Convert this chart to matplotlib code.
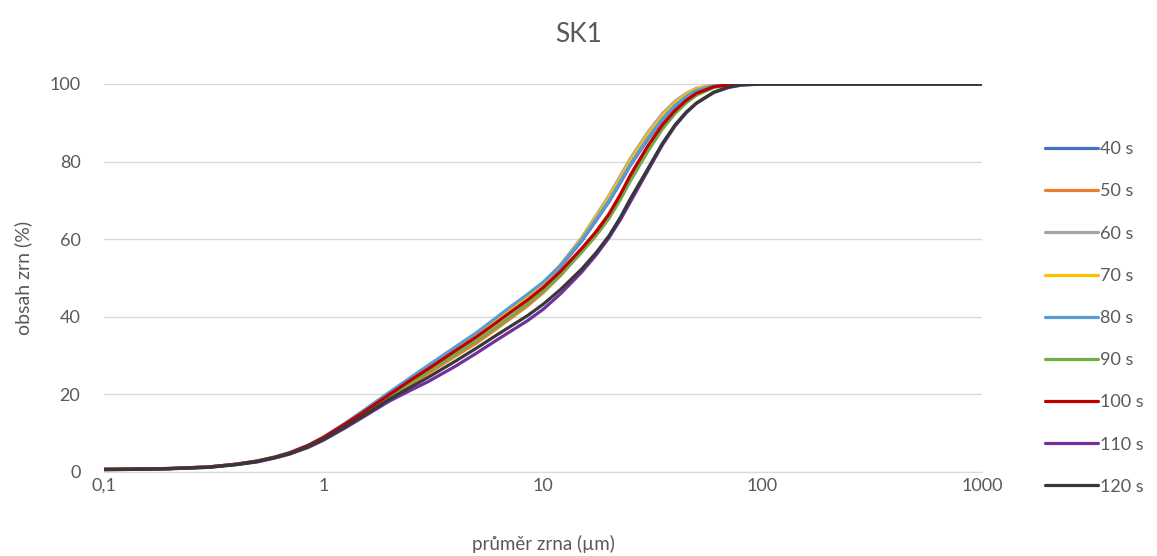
import matplotlib
matplotlib.use("Agg")
import matplotlib.pyplot as plt

plt.rcParams['font.family'] = ['Lato', 'DejaVu Sans']

# grain diameter (µm) and cumulative content (%) for each grinding time
d = [0.1, 0.15, 0.2, 0.3, 0.4, 0.5, 0.6, 0.7, 0.85, 1, 1.25, 1.5, 2, 2.5, 3, 4, 5,
     6, 7, 8.5, 10, 12, 15, 17.5, 20, 22.5, 25, 30, 35, 40, 45, 50, 60, 70, 80,
     100, 1000]

s40 = [0.7, 0.8, 0.9, 1.3, 2.0, 2.8, 3.8, 4.9, 6.8, 8.9, 12.4, 15.4, 20.4, 24.2,
       27.3, 32.0, 35.7, 39.1, 42.0, 45.5, 48.6, 52.9, 59.5, 64.9, 69.7, 74.5,
       79.0, 85.7, 90.8, 94.3, 96.7, 98.2, 99.6, 99.9, 100, 100, 100]
s50 = [0.7, 0.8, 0.9, 1.3, 2.0, 2.8, 3.8, 4.8, 6.7, 8.7, 12.0, 14.8, 19.3, 22.7,
       25.4, 29.9, 33.3, 36.5, 39.3, 42.8, 46.2, 50.6, 57.0, 62.0, 66.5, 71.3,
       76.0, 83.4, 89.0, 92.8, 95.6, 97.5, 99.3, 99.8, 100, 100, 100]
s60 = [0.7, 0.8, 0.9, 1.3, 2.0, 2.8, 3.8, 4.9, 6.8, 8.9, 12.3, 15.2, 20.0, 23.8,
       26.8, 31.5, 35.1, 38.4, 41.3, 45.0, 48.5, 53.3, 60.4, 66.2, 71.3, 76.3,
       80.8, 87.5, 92.4, 95.6, 97.6, 98.9, 99.8, 100, 100, 100, 100]
s70 = [0.7, 0.8, 0.9, 1.3, 2.0, 2.8, 3.8, 4.9, 6.8, 8.9, 12.3, 15.3, 20.2, 24.0,
       27.0, 31.7, 35.4, 38.8, 41.7, 45.3, 48.7, 53.3, 60.2, 65.8, 70.8, 75.7,
       80.2, 86.9, 91.8, 95.1, 97.3, 98.7, 99.8, 100, 100, 100, 100]
s80 = [0.7, 0.8, 0.9, 1.3, 2.0, 2.9, 3.9, 5.0, 6.9, 9.0, 12.5, 15.6, 20.6, 24.4,
       27.5, 32.3, 36.0, 39.4, 42.3, 45.8, 48.9, 53.2, 59.8, 65.2, 70.0, 74.8,
       79.3, 86.0, 91.0, 94.5, 96.8, 98.3, 99.6, 99.95, 100, 100, 100]
s90 = [0.7, 0.8, 0.9, 1.3, 2.0, 2.8, 3.8, 4.8, 6.7, 8.7, 12.0, 14.9, 19.6, 23.1,
       25.9, 30.4, 33.9, 37.0, 39.8, 43.3, 46.5, 50.7, 56.6, 61.0, 65.4, 70.2,
       75.0, 82.6, 88.4, 92.4, 95.2, 97.1, 99.1, 99.7, 100, 100, 100]
s100 = [0.7, 0.8, 0.9, 1.3, 2.0, 2.8, 3.8, 4.9, 6.8, 8.9, 12.3, 15.2, 20.0, 23.7,
        26.6, 31.3, 34.9, 38.1, 40.9, 44.3, 47.5, 51.7, 57.6, 62.0, 66.5, 71.5,
        76.5, 84.0, 89.5, 93.2, 95.8, 97.6, 99.3, 99.8, 100, 100, 100]
s110 = [0.6, 0.7, 0.85, 1.2, 1.9, 2.6, 3.6, 4.6, 6.3, 8.2, 11.3, 14.0, 18.3, 21.1,
        23.3, 27.3, 30.7, 33.6, 36.0, 39.0, 41.9, 45.9, 51.5, 56.0, 60.4, 65.0,
        69.6, 77.6, 84.3, 89.2, 92.6, 95.0, 97.8, 99.1, 99.7, 100, 100]
s120 = [0.6, 0.7, 0.85, 1.2, 1.9, 2.7, 3.7, 4.7, 6.5, 8.4, 11.6, 14.3, 18.8, 21.9,
        24.4, 28.6, 32.0, 34.9, 37.3, 40.3, 43.2, 47.0, 52.3, 56.6, 60.9, 65.6,
        70.4, 78.1, 84.7, 89.5, 92.8, 95.1, 97.9, 99.2, 99.8, 100, 100]

labels = ["40 s", "50 s", "60 s", "70 s", "80 s", "90 s", "100 s", "110 s", "120 s"]
series = [s40, s50, s60, s70, s80, s90, s100, s110, s120]
colors = ['#4472C4', '#ED7D31', '#A5A5A5', '#FFC000', '#5B9BD5', '#70AD47',
          '#C00000', '#7030A0', '#383838']

xticks = [0.1, 1, 10, 100, 1000]
xtick_labels = ["0,1", "1", "10", "100", "1000"]
yticks = [0, 20, 40, 60, 80, 100]

txt = '#595959'

fig = plt.figure(figsize=(11.57, 5.56), dpi=100)
ax = fig.add_axes([104 / 1157, 84 / 556, 878 / 1157, 388 / 556])

for vals, lab, col in zip(series, labels, colors):
    ax.plot(d, vals, color=col, lw=2.3, label=lab,
            solid_capstyle='round', solid_joinstyle='round')

ax.set_xscale('log')
ax.set_xlim(0.1, 1000)
ax.set_ylim(0, 100)
ax.set_xticks(xticks)
ax.set_xticklabels(xtick_labels)
ax.minorticks_off()
ax.set_yticks(yticks)
ax.tick_params(length=0, labelsize=13, colors=txt)
ax.tick_params(axis='y', pad=17)
ax.tick_params(axis='x', pad=4)
ax.grid(axis='y', color='#D9D9D9', lw=1)
ax.set_axisbelow(True)
for side in ['top', 'right', 'left']:
    ax.spines[side].set_visible(False)
ax.spines['bottom'].set_color('#D9D9D9')

# chart title is centred on the whole figure, not on the plot area
fig.text(0.5, 1 - 35 / 556, "SK1", fontsize=19, color=txt,
         ha='center', va='center')
ax.set_xlabel("průměr zrna (µm)", fontsize=13.5, color=txt, labelpad=30)
ax.set_ylabel("obsah zrn (%)", fontsize=14, color=txt, labelpad=12)

leg = fig.legend(loc='center left', bbox_to_anchor=(1038 / 1157, 238 / 556),
                 frameon=False, fontsize=13, handlelength=2.9,
                 handletextpad=0.15, labelspacing=1.45, borderaxespad=0)
for t in leg.get_texts():
    t.set_color(txt)

fig.savefig("out.png", dpi=100)
